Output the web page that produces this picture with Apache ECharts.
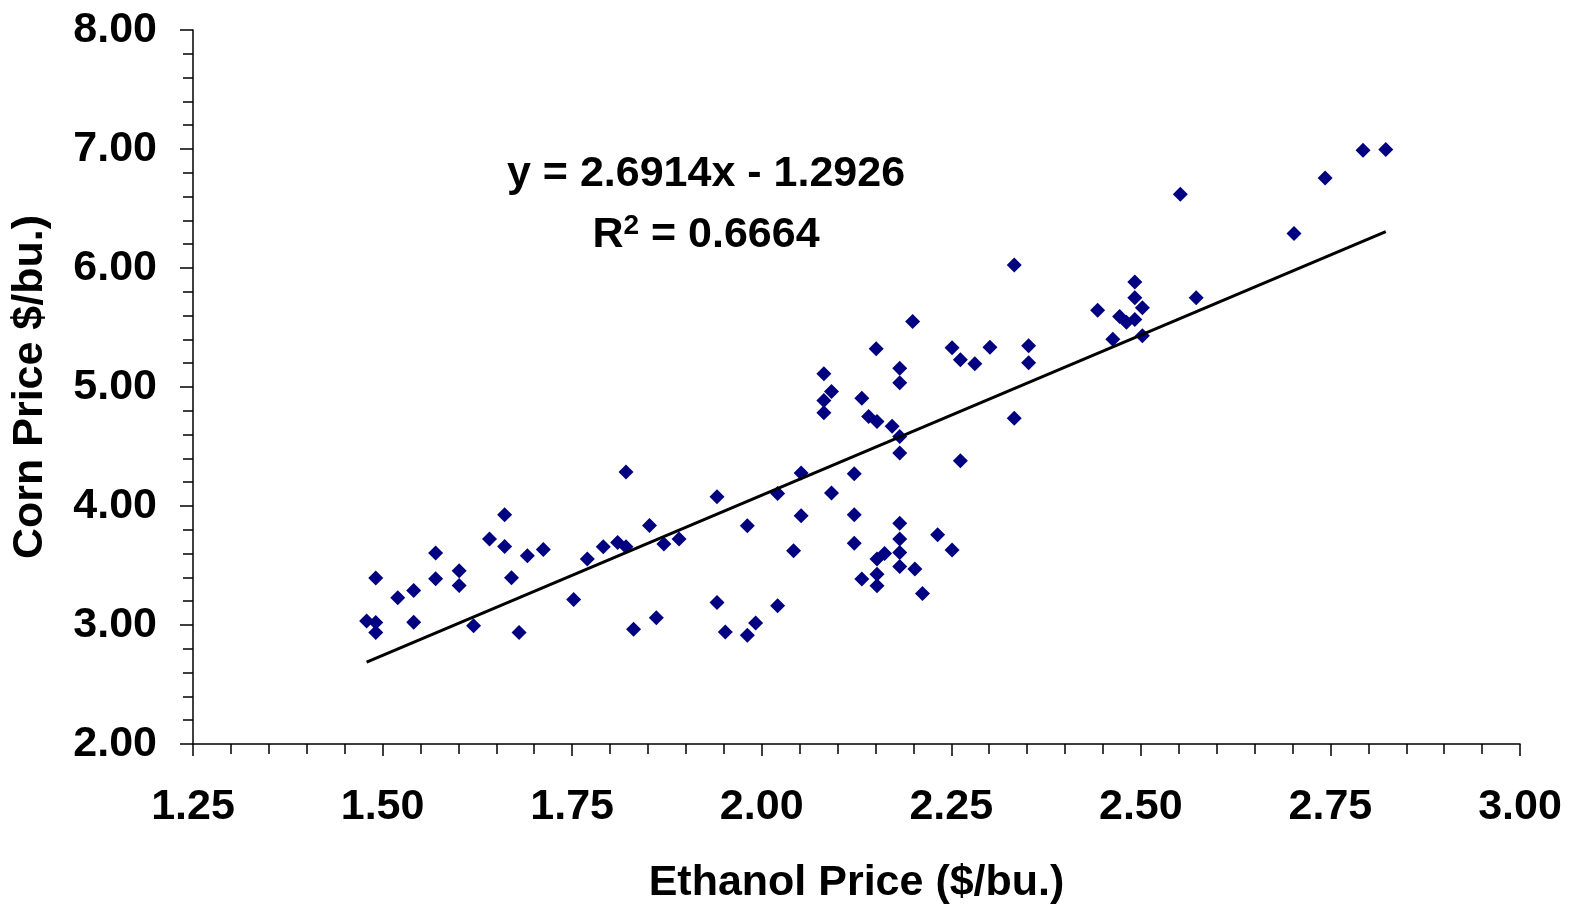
<!DOCTYPE html>
<html>
<head>
<meta charset="utf-8">
<script src="https://cdn.jsdelivr.net/npm/echarts@6/dist/echarts.min.js"></script>
<style>
html,body{margin:0;padding:0;background:#fff;}
#chart{width:1570px;height:906px;}
</style>
</head>
<body>
<div id="chart"></div>
<script>
// Ethanol price ($/bu.) — x values
const ethanolPrice = [
  1.491,1.479,1.491,1.491,1.520,1.541,1.541,1.570,1.570,1.601,1.601,1.620,1.641,1.661,1.661,1.670,1.680,1.691,1.712,1.752,
  1.770,1.791,1.810,1.821,1.821,1.831,1.852,1.861,1.871,1.891,1.941,1.941,1.952,
  1.981,1.992,1.981,2.021,2.021,2.042,2.052,2.052,2.082,2.092,2.082,2.082,2.092,2.122,2.122,2.122,2.132,2.132,
  2.141,2.152,2.151,2.152,2.162,2.152,2.152,2.172,2.182,2.182,2.182,2.182,2.182,2.182,2.182,2.182,2.202,2.212,
  2.232,2.251,2.251,2.262,2.281,2.262,2.199,
  2.333,2.301,2.352,2.352,2.333,2.443,2.472,2.481,2.492,2.492,2.492,2.502,2.463,2.502,2.573,2.552,2.743,2.793,2.823,2.702
];
// Corn price ($/bu.) — y values
const cornPrice = [
  3.394,3.033,3.021,2.937,3.228,3.290,3.024,3.605,3.388,3.456,3.332,2.993,3.722,3.927,3.660,3.397,2.937,3.582,3.635,3.215,
  3.554,3.658,3.694,3.658,4.286,2.965,3.837,3.060,3.680,3.722,4.078,3.189,2.942,
  2.914,3.016,3.834,3.161,4.106,3.624,4.278,3.919,5.111,4.962,4.886,4.783,4.110,4.272,3.927,3.686,4.906,3.386,
  4.752,4.710,5.321,3.554,3.601,3.427,3.329,4.670,5.158,5.035,4.583,4.446,3.854,3.722,3.610,3.492,3.470,3.265,
  3.759,3.630,5.330,5.229,5.195,4.381,5.551,
  6.025,5.335,5.347,5.204,4.737,5.646,5.593,5.545,5.568,5.882,5.750,5.666,5.402,5.431,5.750,6.620,6.757,6.990,6.996,6.289
];
// Trend line as stated on the chart
const trendSlope = 2.6914;
const trendIntercept = -1.2926;
const equationText = 'y = 2.6914x - 1.2926';
const rSquaredText = ' = 0.6664';
const xAxisTitle = 'Ethanol Price ($/bu.)';
const yAxisTitle = 'Corn Price $/bu.)';

const points = ethanolPrice.map((x, i) => [x, cornPrice[i]]);
const xMin = Math.min(...ethanolPrice), xMax = Math.max(...ethanolPrice);
const trendPoints = [xMin, xMax].map(x => [x, trendSlope * x + trendIntercept]);

const FONT = "'Liberation Sans', Arial, sans-serif";
const FS = 43;
const chart = echarts.init(document.getElementById('chart'), null, {renderer: 'canvas'});
chart.setOption({
  animation: false,
  backgroundColor: '#ffffff',
  grid: {left: 193, right: 50, top: 30, bottom: 162, containLabel: false, outerBoundsMode: 'none'},
  xAxis: {
    type: 'value', min: 1.25, max: 3.00, interval: 0.25,
    axisLine: {show: true, lineStyle: {color: '#000', width: 1.5}},
    axisTick: {show: true, length: 12, inside: false, lineStyle: {color: '#000', width: 1.5}},
    minorTick: {show: true, splitNumber: 5, length: 10, lineStyle: {color: '#000', width: 1.5}},
    splitLine: {show: false},
    axisLabel: {formatter: v => v.toFixed(2), color: '#000', fontFamily: FONT, fontWeight: 'bold', fontSize: FS, margin: 42},
    name: xAxisTitle, nameLocation: 'middle', nameGap: 118,
    nameTextStyle: {color: '#000', fontFamily: FONT, fontWeight: 'bold', fontSize: FS}
  },
  yAxis: {
    type: 'value', min: 2, max: 8, interval: 1,
    axisLine: {show: true, lineStyle: {color: '#000', width: 1.5}},
    axisTick: {show: true, length: 13, inside: false, lineStyle: {color: '#000', width: 1.5}},
    minorTick: {show: true, splitNumber: 5, length: 10, lineStyle: {color: '#000', width: 1.5}},
    splitLine: {show: false},
    axisLabel: {formatter: v => v.toFixed(2), color: '#000', fontFamily: FONT, fontWeight: 'bold', fontSize: FS, margin: 36},
    name: yAxisTitle, nameLocation: 'middle', nameGap: 141, nameRotate: 90,
    nameTextStyle: {color: '#000', fontFamily: FONT, fontWeight: 'bold', fontSize: FS}
  },
  graphic: [
    {type: 'text', z: 10,
     style: {text: equationText, x: 706, y: 174, textAlign: 'center', textVerticalAlign: 'middle',
             fill: '#000', font: "bold 43px 'Liberation Sans', Arial, sans-serif"}},
    {type: 'text', z: 10,
     style: {text: '{b|R}{s|2}{b|' + rSquaredText + '}', x: 706, y: 235, textAlign: 'center', textVerticalAlign: 'middle',
             fill: '#000',
             rich: {
               b: {fontFamily: FONT, fontWeight: 'bold', fontSize: 43, lineHeight: 46, fill: '#000', verticalAlign: 'middle'},
               s: {fontFamily: FONT, fontWeight: 'bold', fontSize: 28, lineHeight: 28, fill: '#000', verticalAlign: 'top'}
             }}}
  ],
  series: [
    {
      type: 'scatter', data: points, symbol: 'diamond', symbolSize: 15,
      itemStyle: {color: '#000080', opacity: 1}, z: 3
    },
    {
      type: 'line', data: trendPoints, symbol: 'none', silent: true,
      lineStyle: {color: '#000', width: 3}, z: 4
    }
  ]
});
</script>
</body>
</html>
